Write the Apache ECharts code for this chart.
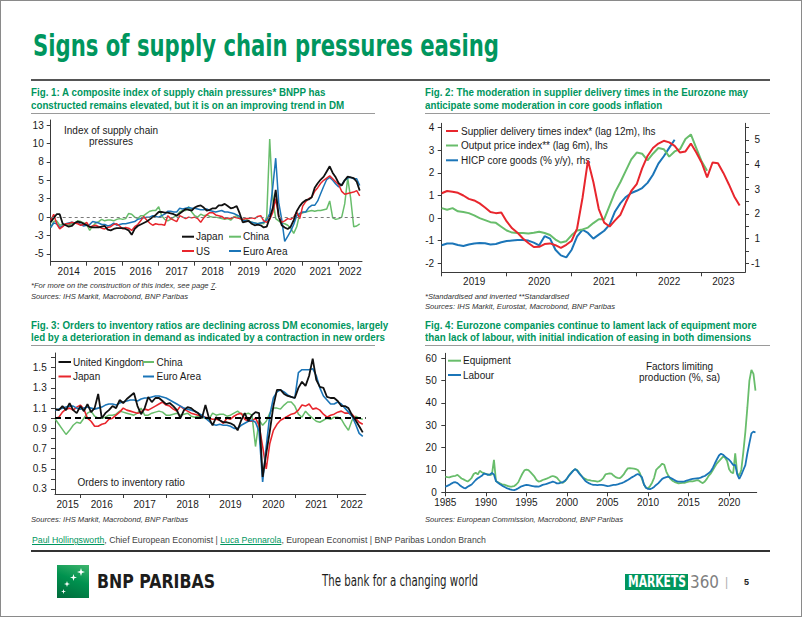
<!DOCTYPE html>
<html><head><meta charset="utf-8">
<script src="https://cdn.jsdelivr.net/npm/echarts@6/dist/echarts.min.js"></script>
<style>
html,body{margin:0;padding:0;background:#fff;}
#page{position:relative;width:802px;height:617px;overflow:hidden;background:#fff;}
#frame{position:absolute;left:0;top:0;width:800px;height:615px;border:1px solid #8a8a8a;z-index:6;pointer-events:none;}
#chart{position:absolute;left:0;top:0;width:802px;height:617px;z-index:1;}
.t{position:absolute;white-space:nowrap;font-family:"Liberation Sans",Arial,sans-serif;transform-origin:0 50%;z-index:3;color:#1a1a1a;}
.figt{font-weight:bold;font-size:10.5px;line-height:12px;color:#00965e;}
.note{font-style:italic;font-size:8px;line-height:10px;color:#333;}
.rule{position:absolute;z-index:3;}
.narrow{font-family:"Liberation Sans Narrow","DejaVu Sans Condensed","Liberation Sans",sans-serif;}
.star{position:absolute;background:#fff;clip-path:polygon(50% 0,62% 38%,100% 50%,62% 62%,50% 100%,38% 62%,0 50%,38% 38%);}
</style>
</head><body>
<div id="page">
  <div id="chart"></div>
  <div id="frame"></div>

  <div class="t narrow" data-w="466" style="left:33px;top:30px;font-size:31px;line-height:31px;font-weight:bold;color:#00965e;">Signs of supply chain pressures easing</div>
  <div class="rule" style="left:31px;top:79px;width:739px;height:2px;background:#555;"></div>

  <div class="t figt" style="left:31px;top:86px;">Fig. 1: A composite index of supply chain pressures* BNPP has</div>
  <div class="t figt" style="left:31px;top:99px;">constructed remains elevated, but it is on an improving trend in DM</div>
  <div class="rule" style="left:31px;top:113px;width:344px;height:1px;background:#9a9a9a;"></div>

  <div class="t figt" id="figref" style="left:425px;top:86px;">Fig. 2: The moderation in supplier delivery times in the Eurozone may</div>
  <div class="t figt" style="left:425px;top:99px;">anticipate some moderation in core goods inflation</div>
  <div class="rule" style="left:425px;top:113px;width:345px;height:1px;background:#9a9a9a;"></div>

  <div class="t figt" style="left:31px;top:319px;">Fig. 3: Orders to inventory ratios are declining across DM economies, largely</div>
  <div class="t figt" style="left:31px;top:331px;">led by a deterioration in demand as indicated by a contraction in new orders</div>
  <div class="rule" style="left:31px;top:345px;width:344px;height:1px;background:#9a9a9a;"></div>

  <div class="t figt" style="left:425px;top:319px;">Fig. 4: Eurozone companies continue to lament lack of equipment more</div>
  <div class="t figt" style="left:425px;top:331px;">than lack of labour, with initial indication of easing in both dimensions</div>
  <div class="rule" style="left:425px;top:345px;width:345px;height:1px;background:#9a9a9a;"></div>

  <div class="t note" data-w="186" style="left:31px;top:280.5px;">*For more on the construction of this index, see page <u>7</u>.</div>
  <div class="t note" data-w="157" style="left:31px;top:291.7px;">Sources: IHS Markit, Macrobond, BNP Paribas</div>
  <div class="t note" data-w="144" style="left:425px;top:291.7px;">*Standardised and inverted **Standardised</div>
  <div class="t note" data-w="190" style="left:425px;top:301.7px;">Sources: IHS Markit, Eurostat, Macrobond, BNP Paribas</div>
  <div class="t note" data-w="157" style="left:31px;top:515px;">Sources: IHS Markit, Macrobond, BNP Paribas</div>
  <div class="t note" data-w="198" style="left:425px;top:515px;">Sources: European Commission, Macrobond, BNP Paribas</div>

  <div class="t" data-w="454" style="left:31.5px;top:535px;font-size:8.5px;line-height:10px;color:#444;"><span style="color:#00965e;text-decoration:underline;">Paul Hollingsworth</span>, Chief European Economist | <span style="color:#00965e;text-decoration:underline;">Luca Pennarola</span>, European Economist | BNP Paribas London Branch</div>
  <div class="rule" style="left:31px;top:549.5px;width:739px;height:2px;background:#333;"></div>

  <div class="rule" style="left:57px;top:565px;width:32px;height:33px;background:linear-gradient(200deg,#3fb56e 0%,#00924f 45%,#006a3b 100%);">
    <div class="star" style="left:20px;top:3px;width:8px;height:8px;"></div>
    <div class="star" style="left:13px;top:9px;width:7px;height:7px;"></div>
    <div class="star" style="left:7px;top:16px;width:6px;height:6px;"></div>
    <div class="star" style="left:4px;top:24px;width:5px;height:5px;"></div>
  </div>
  <div class="t narrow" data-w="118" style="left:97px;top:572px;font-size:19px;line-height:19px;font-weight:bold;color:#1d1d1b;">BNP PARIBAS</div>
  <div class="t narrow" data-w="156" style="left:322px;top:574px;font-size:15px;line-height:15px;color:#1d1d1b;">The bank for a changing world</div>
  <div class="rule" style="left:625px;top:574px;width:63px;height:16px;background:#00965e;"></div>
  <div class="t narrow" data-w="58" style="left:627.5px;top:575px;font-size:15px;line-height:15px;font-weight:bold;color:#fff;z-index:4;">MARKETS</div>
  <div class="t narrow" data-w="29" style="left:690px;top:573.5px;font-size:17px;line-height:17px;color:#7f7f7f;">360</div>
  <div class="t" style="left:725px;top:575px;font-size:12px;line-height:14px;color:#b0b0b0;">|</div>
  <div class="t" style="left:744px;top:577px;font-size:9px;line-height:10px;font-weight:bold;color:#222;">5</div>
</div>

<script>
// ---------------- DATA ----------------
// Fig 1: supply chain pressure index, monthly from Jan 2014
const years1 = [2014, 2015, 2016, 2017, 2018, 2019, 2020, 2021, 2022];
const yTicks1 = [-5, -2.5, 0, 2.5, 5, 7.5, 10, 12.5];
const yTickLabels1 = ['-5', '-3', '0', '3', '5', '8', '10', '13'];
const japan1 = [
  -0.7,-0.1,0.4,0.4,-0.9,-1.1,-1.3,-1.2,-0.8,-0.6,-0.7,-0.9,
  -1.1,-1.3,-1.4,-1.4,-1.4,-1.3,-1.2,-1.7,-1.8,-1.6,-1.5,-1.5,
  -1.5,-1.6,-1.8,-2.4,-1.6,-1.2,-1.0,-0.8,-0.6,-0.3,0.0,0.3,
  0.7,0.7,0.6,0.6,0.5,0.4,0.2,0.5,0.8,1.1,1.0,0.9,
  1.3,1.5,1.6,1.3,0.9,1.0,1.2,1.2,1.6,1.6,1.8,1.5,
  1.2,1.3,1.5,0.5,-0.7,-0.6,-0.5,-0.9,-1.1,-1.0,-1.1,-1.4,
  -1.3,-0.1,1.2,3.7,0.1,-1.1,-1.4,-1.6,-1.3,-0.4,0.8,1.5,
  2.0,2.3,2.4,2.7,4.0,4.6,5.1,5.5,6.2,6.9,6.0,5.4,
  4.6,4.3,5.0,5.5,5.4,5.3,4.8,3.6];
const china1 = [
  -1.4,-0.6,-0.5,-1.1,-1.0,-1.0,-1.1,-0.9,-0.8,-0.5,-0.6,-0.8,
  -1.0,-1.8,-1.2,-0.8,-0.6,-0.3,-0.5,-0.4,-0.4,-0.5,-0.3,-0.2,
  -0.3,-0.2,0.5,0.4,0.0,-0.2,0.2,0.2,0.5,0.8,0.9,0.9,
  1.4,0.2,-0.3,-0.5,-0.3,0.0,0.2,0.7,0.9,0.9,1.4,0.7,
  0.2,0.0,0.4,0.2,0.3,0.1,0.0,0.0,-0.1,-0.2,-0.3,-0.2,
  -0.4,0.0,0.2,-0.2,-0.3,-0.2,-0.5,-0.7,-0.8,-0.9,-0.8,-0.9,
  0.0,10.6,2.5,-0.2,-0.5,-0.8,-0.9,-1.1,-1.5,-2.2,-1.3,0.4,
  0.6,0.7,0.8,0.9,0.8,0.9,0.9,1.0,1.1,2.2,-0.1,-0.3,
  -0.2,0.0,1.8,5.3,2.5,-1.3,-1.2,-0.9];
const us1 = [
  -0.5,0.4,-0.9,-1.6,-1.3,-0.9,-0.9,-0.7,-0.8,-0.9,-1.1,-1.0,
  -0.7,-1.4,-1.2,-1.1,-1.3,-1.5,-1.6,-1.4,-1.3,-1.0,-0.9,-1.2,
  -1.6,-1.4,-1.5,-1.8,-1.3,-1.0,-0.5,0.1,-0.4,-0.8,-1.1,-0.9,
  -1.0,-1.0,-1.1,0.2,-0.2,-0.4,-0.6,0.2,0.0,-0.2,0.0,-0.1,
  0.0,-0.2,-0.7,-0.1,0.3,0.6,0.6,0.3,0.2,0.1,-0.2,-0.1,
  -0.2,0.0,-0.1,-0.2,-0.3,-0.2,-0.2,-0.1,-0.2,0.1,0.2,-0.5,
  -0.7,-0.3,0.6,2.5,0.1,-0.7,-0.5,-0.2,-0.3,0.0,0.7,-0.2,
  1.5,2.1,2.5,2.7,3.5,4.0,4.6,5.0,5.3,5.6,5.2,4.8,
  4.4,3.5,3.1,3.2,3.3,3.4,3.6,2.9];
const euro1 = [
  -1.4,-0.8,-0.9,-1.4,-1.2,-0.9,-0.8,-0.7,-0.8,-0.8,-1.0,-1.2,
  -1.1,-1.0,-0.6,-0.7,-0.8,-1.0,-1.0,-1.2,-1.1,-0.8,-1.1,-1.0,
  -0.9,-0.9,-0.8,-0.7,-0.6,-0.3,-0.2,-0.1,0.0,0.0,0.2,0.1,
  0.0,0.2,0.4,0.8,0.8,0.7,0.7,1.2,1.1,1.2,1.3,1.2,
  1.2,1.1,1.0,1.0,1.1,0.9,0.8,0.7,0.8,0.9,0.7,0.7,
  0.6,0.5,0.3,0.1,-0.4,-0.5,-0.6,-0.7,-0.8,-0.9,-0.8,-0.7,
  -0.4,0.5,4.0,8.0,2.0,-0.3,-3.3,-2.6,-1.9,-1.0,0.2,0.5,
  0.7,0.7,1.3,1.6,1.6,2.2,3.2,4.2,5.1,5.4,5.0,4.5,
  4.1,4.4,5.0,5.3,5.4,5.2,5.2,4.3];

// Fig 2: monthly from Jan 2019
const years2 = [2019, 2020, 2021, 2022, 2023];
const yTicksL2 = [-2, -1, 0, 1, 2, 3, 4];
const yLabelsR2 = [0, 1, 2, 3, 4, 5];
const yTickLabelsR2 = ['-1', '1', '2', '3', '4', '5'];
const yMinorR2 = [0, 0.5, 1, 1.5, 2, 2.5, 3, 3.5, 4, 4.5, 5, 5.5];
const supplier2 = [
  1.10,1.20,1.17,1.12,1.00,0.85,0.78,0.65,0.47,0.27,0.22,0.25,
  -0.15,-0.45,-0.65,-0.90,-1.10,-1.28,-1.27,-1.15,-1.12,-1.20,-1.32,-1.18,
  -1.00,-0.45,0.90,2.55,1.60,0.40,-0.20,-0.37,-0.10,0.15,0.70,1.20,
  1.50,2.20,2.75,3.10,3.30,3.42,3.35,3.20,2.90,2.95,3.30,2.90,
  2.45,1.80,2.46,2.43,2.00,1.50,0.96,0.56];
const output2 = [
  0.44,0.37,0.44,0.30,0.27,0.22,0.12,0.00,-0.09,-0.18,-0.21,-0.38,
  -0.55,-0.64,-0.66,-0.66,-0.68,-0.65,-0.60,-0.66,-0.75,-0.95,-1.08,-1.02,
  -0.75,-0.55,-0.50,-0.42,-0.22,-0.05,-0.05,0.55,1.15,1.60,2.10,2.60,
  2.90,2.85,2.55,2.85,3.10,3.05,2.72,2.95,3.05,3.50,3.70,3.10,
  2.50,2.10];
const hicp2 = [
  0.73,0.80,0.80,0.74,0.70,0.76,0.80,0.82,0.81,0.76,0.78,0.85,
  0.90,0.92,0.94,0.94,0.92,0.84,0.73,1.10,1.00,0.55,0.32,0.24,
  0.55,1.09,1.36,1.23,1.00,1.16,1.32,1.57,2.10,2.44,2.69,2.85,
  2.94,3.05,3.26,3.59,4.04,4.34,4.68,5.01];

// Fig 3: monthly from Jun 2015
const years3 = [2015, 2016, 2017, 2018, 2019, 2020, 2021, 2022];
const yTicks3 = [0.3,0.4,0.5,0.6,0.7,0.8,0.9,1.0,1.1,1.2,1.3,1.4,1.5,1.6];
const yLabels3 = [0.3, 0.5, 0.7, 0.9, 1.1, 1.3, 1.5];
const uk3 = [
  1.09,1.08,1.12,1.08,1.15,1.08,1.05,1.12,1.07,1.14,1.06,1.10,
  1.24,1.00,1.05,1.08,1.12,1.10,1.18,1.15,1.19,1.22,1.25,1.12,
  1.04,1.10,1.21,1.16,1.20,1.20,1.17,1.14,1.15,1.12,1.08,1.00,
  1.08,1.11,1.10,1.07,1.05,1.00,1.13,1.00,0.93,1.01,0.98,0.96,
  0.96,0.95,0.93,0.88,0.98,1.05,0.97,1.03,1.06,1.05,0.42,0.65,
  0.87,1.12,1.28,1.28,1.24,1.22,1.21,1.20,1.30,1.36,1.32,1.42,
  1.59,1.38,1.31,1.30,1.21,1.20,1.20,1.17,1.12,1.12,1.10,1.03,
  0.98,0.92,0.86];
const japan3 = [
  1.00,1.01,1.06,1.09,1.10,1.08,1.11,1.13,1.09,1.00,0.97,0.92,
  0.92,0.94,0.95,0.99,1.00,1.03,1.06,1.10,1.08,1.07,1.06,1.05,
  1.06,1.09,1.08,1.10,1.12,1.14,1.16,1.13,1.12,1.09,1.07,1.12,
  1.09,1.07,1.05,1.04,1.03,1.02,1.01,1.00,0.99,0.99,0.98,0.95,
  1.00,0.99,1.02,1.04,1.05,0.99,0.97,0.97,1.00,0.93,0.72,0.50,
  0.75,0.88,0.94,0.98,1.00,1.02,1.04,1.05,1.08,1.13,1.12,1.14,
  1.09,1.10,1.08,1.04,1.01,1.03,1.04,1.06,1.07,1.05,1.05,1.04,
  1.00,0.96,0.94];
const china3 = [
  0.99,0.94,0.89,0.84,0.88,0.93,0.96,0.95,1.00,1.05,1.07,1.02,
  1.00,1.00,1.01,1.03,1.03,1.04,1.07,1.06,1.05,1.04,1.03,1.05,
  1.10,1.03,1.03,1.05,1.06,1.07,1.06,1.03,1.03,1.04,1.05,1.03,
  1.04,1.05,1.02,1.01,1.02,1.01,1.00,0.99,1.05,1.03,1.04,1.04,
  1.02,1.03,1.05,1.07,1.04,1.04,1.05,1.03,0.72,0.98,0.93,0.97,
  1.05,1.10,1.10,1.09,1.13,1.16,1.16,1.12,1.04,1.01,1.07,1.03,
  1.00,0.97,0.96,0.98,1.00,0.99,1.01,1.01,0.99,0.93,0.88,0.98,
  1.02,1.00,0.99];
const euro3 = [
  1.08,1.09,1.10,1.11,1.12,1.12,1.10,1.09,1.10,1.11,1.10,1.09,
  1.10,1.11,1.13,1.14,1.14,1.13,1.15,1.16,1.17,1.18,1.18,1.17,
  1.19,1.20,1.20,1.21,1.22,1.22,1.21,1.20,1.18,1.16,1.14,1.12,
  1.10,1.09,1.08,1.07,1.05,1.03,1.00,0.97,0.94,0.93,0.94,0.93,
  0.93,0.92,0.90,0.90,0.93,0.95,0.97,0.98,0.96,0.87,0.37,0.72,
  1.03,1.20,1.26,1.28,1.26,1.23,1.21,1.20,1.45,1.48,1.48,1.48,
  1.49,1.42,1.30,1.22,1.18,1.14,1.14,1.16,1.14,1.10,1.06,1.02,
  0.94,0.85,0.82];

// Fig 4: quarterly from 1985
const years4 = [1985, 1990, 1995, 2000, 2005, 2010, 2015, 2020];
const yTicks4 = [0, 10, 20, 30, 40, 50, 60];
const equipment4 = [
  7.0,6.8,6.7,7.0,7.2,7.4,7.8,7.0,6.2,5.8,5.3,4.8,
  5.5,6.5,8.2,8.8,8.0,9.6,9.0,8.6,8.2,8.0,7.7,8.0,
  14.5,5.0,4.5,4.0,3.6,3.4,3.1,2.8,2.5,2.6,2.8,3.5,
  4.5,6.5,8.3,9.8,10.2,9.9,9.0,8.0,7.0,5.5,4.8,5.0,
  5.5,5.8,6.1,6.5,7.0,7.3,7.0,6.6,5.5,4.5,4.2,5.0,
  6.0,7.5,8.8,9.6,10.3,10.0,8.8,7.5,6.7,6.0,5.6,5.4,
  5.2,5.1,5.0,4.8,5.0,5.5,6.5,8.0,8.3,8.5,8.4,7.5,
  6.8,6.5,6.3,7.0,8.0,9.5,10.7,10.8,10.7,10.6,10.4,10.0,
  8.5,6.0,3.5,2.0,1.8,2.8,4.3,6.5,10.0,11.0,11.8,12.8,
  12.3,9.3,7.5,6.0,5.2,4.7,4.3,4.0,4.1,4.2,4.2,4.5,
  4.8,5.0,4.9,5.1,5.4,5.3,4.6,4.1,4.8,6.0,7.5,8.5,
  10.0,11.5,13.0,14.0,15.0,16.0,15.5,14.0,10.3,9.0,8.5,17.5,
  8.5,7.5,10.0,18.0,27.0,38.0,50.0,54.8,53.0,45.5];
const labour4 = [
  2.5,2.9,3.3,3.9,4.4,4.5,4.1,3.3,2.6,2.0,1.8,2.5,
  3.0,3.5,4.5,5.5,6.3,6.8,7.4,8.4,8.2,7.8,8.0,8.7,
  8.0,5.0,4.3,3.6,3.0,2.5,2.0,1.6,1.3,1.1,1.0,1.3,
  1.8,2.4,2.8,3.1,3.3,3.2,3.0,2.8,2.6,2.6,2.5,2.9,
  3.3,3.5,3.8,4.1,4.4,4.8,4.5,4.0,4.0,4.3,4.6,5.1,
  6.2,7.5,8.5,9.6,10.4,9.7,8.5,7.5,6.3,5.2,4.5,4.0,
  3.6,3.3,3.3,3.2,3.3,3.3,3.2,3.0,2.8,2.9,3.1,3.3,
  3.3,3.5,3.9,4.1,4.5,5.0,5.5,6.1,6.7,7.2,7.8,8.2,
  7.6,6.8,3.5,2.0,1.5,1.4,1.8,2.4,3.3,4.0,5.0,6.0,
  6.5,6.8,7.0,6.5,6.0,5.5,5.0,4.8,4.8,4.8,4.9,5.2,
  5.5,5.8,6.0,6.1,6.2,6.3,6.6,7.0,7.3,8.0,8.6,9.5,
  11.0,13.0,14.8,16.5,17.3,16.8,16.0,15.2,14.6,13.5,12.2,12.3,
  8.0,6.0,7.8,10.0,12.2,17.5,22.0,26.4,27.2,26.8];

// ---------------- CHART ----------------
const FONT = '"Liberation Sans", Arial, sans-serif';
const TXT = '#1a1a1a';
const AX = '#3a3a3a';
const RED = '#e8262d', GREEN = '#68bd6b', BLUE = '#1b75b8', BLACK = '#111111';

function monthly(arr, start) { return arr.map((v, i) => [start + i / 12, v]); }
function quarterly(arr, start) { return arr.map((v, i) => [start + i / 4, v]); }
function midLabels(years, min, max) {
  return years.map(y => (Math.max(y, min) + Math.min(y + 1, max)) / 2);
}
function inRange(vals, min, max) { return vals.filter(v => v >= min - 1e-9 && v <= max + 1e-9); }

function xAxisCfg(gi, min, max, ticks, labels, fmt, margin) {
  return {
    type: 'value', gridIndex: gi, min: min, max: max,
    axisLine: { show: true, onZero: false, lineStyle: { color: AX, width: 1 } },
    axisTick: { show: true, length: 4, customValues: ticks, lineStyle: { color: AX } },
    axisLabel: { customValues: labels, formatter: fmt, margin: margin, fontSize: 10, fontFamily: FONT, color: TXT },
    splitLine: { show: false }
  };
}
function yAxisCfg(gi, min, max, ticks, labels, fmt, margin, pos, align) {
  return {
    type: 'value', gridIndex: gi, min: min, max: max, position: pos || 'left',
    axisLine: { show: true, onZero: false, lineStyle: { color: AX, width: 1 } },
    axisTick: { show: true, length: 4, customValues: ticks, lineStyle: { color: AX } },
    axisLabel: { customValues: labels, formatter: fmt, margin: margin, fontSize: 10, fontFamily: FONT, color: TXT, align: align },
    splitLine: { show: false }
  };
}
function line(name, data, xi, yi, color, width, extra) {
  return Object.assign({
    name: name, type: 'line', data: data, xAxisIndex: xi, yAxisIndex: yi,
    showSymbol: false, symbol: 'none', silent: true, animation: false,
    lineStyle: { color: color, width: width }, itemStyle: { color: color }, z: 3
  }, extra || {});
}
function legendItem(x1, x2, y, color, tx, label) {
  return [
    { type: 'line', silent: true, shape: { x1: x1, y1: y, x2: x2, y2: y }, style: { stroke: color, lineWidth: 2 } },
    { type: 'text', silent: true, x: tx, y: y, style: { text: label, fill: TXT, font: '10px ' + FONT, align: 'left', verticalAlign: 'middle' } }
  ];
}
function label(x, y, text, align) {
  return { type: 'text', silent: true, x: x, y: y, style: { text: text, fill: TXT, font: '10px ' + FONT, align: align || 'left', verticalAlign: 'middle' } };
}

// axis extents (picture geometry)
const x1min = 2014, x1max = 2022.647, y1min = -6.045, y1max = 13.18;
const x2min = 2019, x2max = 2023.666, y2Lmin = -2.398, y2Lmax = 4.195, y2Rmin = -0.365, y2Rmax = 5.675;
const x3min = 2015.41, x3max = 2022.652, y3min = 0.2505, y3max = 1.645;
const x4min = 1985, x4max = 2023.4, y4min = 0, y4max = 62.25;

const yFmt1 = v => { const i = yTicks1.findIndex(t => Math.abs(t - v) < 1e-6); return i >= 0 ? yTickLabels1[i] : ''; };
const yFmtR2 = v => { const i = yLabelsR2.findIndex(t => Math.abs(t - v) < 1e-6); return i >= 0 ? yTickLabelsR2[i] : ''; };
const yrFmt = v => String(Math.floor(v + 1e-6));

const option = {
  animation: false,
  textStyle: { fontFamily: FONT },
  grid: [
    { left: 50.7, top: 120, width: 311.3, height: 141.7 },
    { left: 441.7, top: 123.3, width: 303.3, height: 149 },
    { left: 55, top: 353, width: 310.7, height: 141 },
    { left: 445.3, top: 353.3, width: 311.4, height: 139 }
  ],
  xAxis: [
    xAxisCfg(0, x1min, x1max, inRange(years1, x1min, x1max), midLabels(years1, x1min, x1max), yrFmt, 5),
    xAxisCfg(1, x2min, x2max, inRange(years2, x2min, x2max), midLabels(years2, x2min, x2max), yrFmt, 4),
    xAxisCfg(2, x3min, x3max, inRange(years3, x3min, x3max), midLabels(years3, x3min, x3max), yrFmt, 5),
    xAxisCfg(3, x4min, x4max, years4, years4, v => String(Math.round(v)), 5)
  ],
  yAxis: [
    yAxisCfg(0, y1min, y1max, yTicks1, yTicks1, yFmt1, 7),
    yAxisCfg(1, y2Lmin, y2Lmax, yTicksL2, yTicksL2, v => String(Math.round(v)), 7.5),
    yAxisCfg(1, y2Rmin, y2Rmax, yMinorR2, yLabelsR2, yFmtR2, 15, 'right', 'right'),
    yAxisCfg(2, y3min, y3max, yTicks3, yLabels3, v => v.toFixed(1), 8.3),
    yAxisCfg(3, y4min, y4max, yTicks4, yTicks4, v => String(Math.round(v)), 8.6)
  ],
  series: [
    // Fig 1
    line('China', monthly(china1, 2014), 0, 0, GREEN, 1.5, {
      markLine: { silent: true, symbol: 'none', label: { show: false }, animation: false,
        lineStyle: { color: '#7a7a7a', width: 1, type: [3, 3] }, data: [{ yAxis: 0 }] }
    }),
    line('Euro Area', monthly(euro1, 2014), 0, 0, BLUE, 1.5),
    line('US', monthly(us1, 2014), 0, 0, RED, 1.5),
    line('Japan', monthly(japan1, 2014), 0, 0, BLACK, 1.8),
    // Fig 2
    line('HICP core goods (% y/y), rhs', monthly(hicp2, 2019), 1, 2, BLUE, 2),
    line('Output price index** (lag 6m), lhs', monthly(output2, 2019), 1, 1, GREEN, 2),
    line('Supplier delivery times index* (lag 12m), lhs', monthly(supplier2, 2019), 1, 1, RED, 2),
    // Fig 3
    line('China', monthly(china3, 2015 + 5 / 12), 2, 3, GREEN, 1.5, {
      markLine: { silent: true, symbol: 'none', label: { show: false }, animation: false, z: 5,
        lineStyle: { color: '#000', width: 1.8, type: [6, 4] }, data: [{ yAxis: 1 }] }
    }),
    line('Japan', monthly(japan3, 2015 + 5 / 12), 2, 3, RED, 1.6),
    line('Euro Area', monthly(euro3, 2015 + 5 / 12), 2, 3, BLUE, 1.6),
    line('United Kingdom', monthly(uk3, 2015 + 5 / 12), 2, 3, BLACK, 1.8),
    // Fig 4
    line('Equipment', quarterly(equipment4, 1985), 3, 4, GREEN, 1.8),
    line('Labour', quarterly(labour4, 1985), 3, 4, BLUE, 1.8)
  ],
  graphic: [].concat(
    legendItem(182, 194, 236.7, BLACK, 196, 'Japan'),
    legendItem(229, 241, 236.7, GREEN, 243, 'China'),
    legendItem(182, 194, 251, RED, 196, 'US'),
    legendItem(229, 241, 251, BLUE, 243, 'Euro Area'),
    [label(111, 130, 'Index of supply chain', 'center'), label(111, 141.5, 'pressures', 'center')],
    legendItem(446, 458, 131, RED, 461, 'Supplier delivery times index* (lag 12m), lhs'),
    legendItem(446, 458, 145.5, GREEN, 461, 'Output price index** (lag 6m), lhs'),
    legendItem(446, 458, 160.3, BLUE, 461, 'HICP core goods (% y/y), rhs'),
    legendItem(58.5, 71, 362, BLACK, 73, 'United Kingdom'),
    legendItem(143, 154, 362, GREEN, 156.5, 'China'),
    legendItem(58.5, 71, 376.5, RED, 73, 'Japan'),
    legendItem(143, 154, 376.5, BLUE, 156.5, 'Euro Area'),
    [label(77.5, 482, 'Orders to inventory ratio')],
    legendItem(448, 461, 360.7, GREEN, 463, 'Equipment'),
    legendItem(448, 461, 375, BLUE, 463, 'Labour'),
    [label(679.5, 366, 'Factors limiting', 'center'), label(679.5, 377.5, 'production (%, sa)', 'center')]
  )
};

const chart = echarts.init(document.getElementById('chart'), null, { renderer: 'svg', width: 802, height: 617 });
chart.setOption(option);

function fitText() {
  document.querySelectorAll('[data-w]').forEach(el => {
    el.style.transform = 'none';
    const w = parseFloat(el.dataset.w);
    const r = el.getBoundingClientRect().width;
    if (r > 0) el.style.transform = 'scaleX(' + (w / r).toFixed(4) + ')';
  });
  // one shared horizontal scale for all figure titles, set by the Fig. 2 first line
  const figs = document.querySelectorAll('.figt');
  figs.forEach(el => { el.style.transform = 'none'; });
  const ref = document.getElementById('figref').getBoundingClientRect().width;
  if (ref > 0) {
    const s = (323 / ref).toFixed(4);
    figs.forEach(el => { el.style.transform = 'scaleX(' + s + ')'; });
  }
}
fitText();
if (document.fonts && document.fonts.ready) document.fonts.ready.then(fitText);
</script>
</body></html>
